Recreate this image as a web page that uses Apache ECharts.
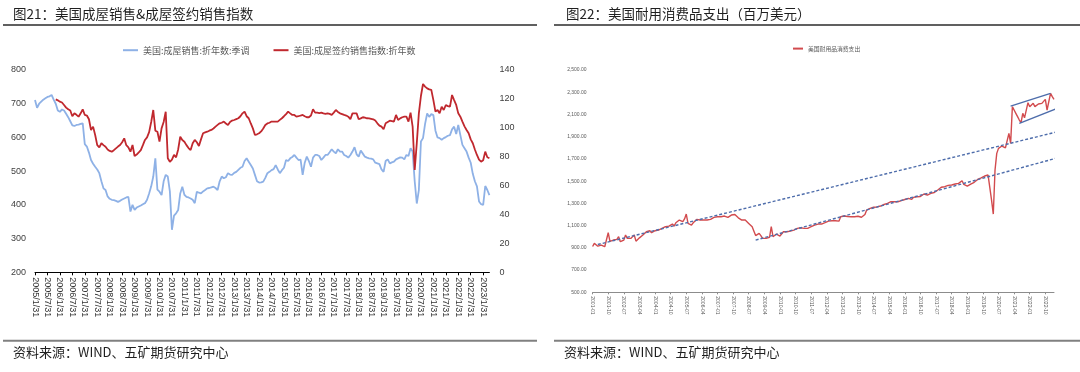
<!DOCTYPE html>
<html><head><meta charset="utf-8">
<script src="https://cdn.jsdelivr.net/npm/echarts@6/dist/echarts.min.js"></script>
<style>html,body{margin:0;padding:0;background:#fff}#c{width:1080px;height:372px}</style>
</head><body><div id="c"></div>
<script>
// ---------- texts ----------
const titleLeft = '图21：美国成屋销售&成屋签约销售指数';
const titleRight = '图22：美国耐用消费品支出（百万美元）';
const sourceText = '资料来源：WIND、五矿期货研究中心';
const nameSales = '美国:成屋销售:折年数:季调';
const namePending = '美国:成屋签约销售指数:折年数';
const nameDurable = '美国耐用品消费支出';

// ---------- categories (monthly) ----------
function monthCats(y0, n, fmt){ const out=[]; let y=y0, m=1; for(let i=0;i<n;i++){ out.push(fmt(y,m)); m++; if(m>12){m=1;y++;} } return out; }
const leftCats = monthCats(2005, 220, (y,m)=> y+'/'+m+'/'+new Date(y,m,0).getDate());
const rightCats = monthCats(2001, 267, (y,m)=> y+'-'+String(m).padStart(2,'0'));

// ---------- left chart: existing home sales (万套, left axis) ----------
const homeSales = [
 711,688,700,706,712,716,720,722,726,712,700,680,
 676,683,680,670,660,648,636,634,637,638,640,642,
 580,573,555,533,522,513,505,494,470,449,444,425,
 418,415,414,412,409,412,416,419,422,424,380,400,
 385,392,395,398,402,405,415,434,455,484,538,445,
 439,429,470,489,484,440,326,368,375,385,434,454,
 430,424,422,419,415,405,439,436,434,440,444,449,
 450,452,454,450,444,470,484,479,482,494,490,489,
 495,498,504,510,513,530,538,528,518,508,489,470,
 466,467,469,480,494,498,503,506,518,505,494,503,
 510,533,530,538,542,548,540,533,534,489,525,543,
 530,513,540,548,548,545,533,540,548,548,556,565,
 558,553,565,558,558,548,545,540,548,558,571,550,
 543,561,552,543,540,538,537,535,525,523,521,505,
 498,530,535,523,526,528,535,538,541,540,535,548,
 545,568,558,470,404,444,588,598,640,671,661,669,
 666,620,600,598,593,598,601,605,607,624,632,610,
 637,607,578,568,558,540,525,492,470,455,410,402,
 400,456,444,429
];
// ---------- left chart: pending home sales index (right axis) ----------
const pendingIndex = [
 null,null,null,null,null,null,null,null,null,null,119.7,119,
 118.1,117.5,115.8,114,112.8,112,108,110,109,107.7,110,112.8,
 108.9,108.5,105.9,98.5,100.8,95,88,86.5,89.3,88,86.9,85,
 84,83.5,84.5,85.8,87,88.1,90,92.7,88,86.5,83.5,88.1,
 80.5,81.5,83,84.6,88,91.6,93.4,97,104,112.3,98,97.3,
 90.4,99.6,104,111.1,78.9,76.5,78,81.2,79.6,85,93.8,91.5,
 90.4,88,86,84.6,89.3,91.6,90,87.4,92,96.2,96.8,97.3,
 98,98.5,99.5,100.8,102,103.1,103.5,104.3,103,101.9,104,105,
 105.4,106,106.6,108,110,111.2,108,106.6,103,99.6,95,95.5,
 96.2,97.5,99.5,101.9,103,103.5,104.3,104.3,104.3,104.3,105.5,106.6,
 108,109.5,111.2,110,108.9,108.9,107.7,108,108.5,108.9,108,107.3,
 107.3,108.5,112.8,110.5,110.5,110.2,110.5,110,109.6,110,109.6,109,
 110.5,112.3,111,110,109.5,108.9,108.5,107.7,105.9,110,110,110,
 105.9,106.5,107.3,107,106.6,106.5,106.2,105.9,105,103.1,101.5,100.8,
 99,103.1,104,104.9,104.6,104.3,108.9,105.4,106.5,107.3,107.7,107.7,
 104.3,110.5,100.8,70.8,89.3,110,122,130.3,128.5,127.3,126.6,126.2,
 119.2,111.2,112.3,110,114.6,112.3,115.8,115,114.6,122.7,119.2,115.8,
 110,107.7,104.3,101,98.5,96.2,92,89.3,85,81.2,78,76.6,
 77.5,83.5,79.6,78.9
];
// ---------- right chart: durable goods spending ----------
const durableSpending = [
 912,940,928,915,910,925,918,910,895,1036,958,955,
 970,972,976,1000,955,962,970,1015,985,970,985,1000,
 1015,960,975,990,1000,1015,1030,1045,1050,1054,1036,1045,
 1054,1058,1060,1068,1075,1070,1090,1081,1095,1105,1114,1096,
 1126,1135,1150,1140,1135,1160,1204,1120,1112,1105,1126,1140,
 1156,1152,1150,1148,1150,1155,1150,1165,1156,1165,1174,1170,
 1180,1178,1180,1183,1186,1180,1174,1185,1195,1210,1200,1186,
 1170,1160,1150,1145,1150,1138,1120,1108,1090,1050,1010,995,
 1030,1010,985,976,985,1000,995,1090,1000,1010,1024,1015,
 1006,1020,1045,1040,1045,1045,1050,1055,1060,1068,1075,1078,
 1081,1078,1075,1075,1075,1082,1090,1098,1105,1110,1114,1118,
 1114,1120,1126,1135,1140,1144,1144,1144,1144,1135,1140,1180,
 1180,1186,1184,1182,1180,1180,1182,1180,1180,1184,1186,1175,
 1165,1200,1240,1245,1255,1260,1265,1270,1268,1272,1276,1280,
 1290,1306,1300,1310,1315,1312,1315,1318,1315,1320,1325,1330,
 1335,1340,1345,1335,1336,1354,1360,1360,1366,1362,1375,1384,
 1380,1375,1380,1390,1395,1398,1405,1420,1435,1445,1456,1450,
 1455,1462,1465,1465,1470,1474,1478,1480,1486,1504,1470,1460,
 1456,1462,1474,1480,1490,1504,1515,1525,1530,1540,1546,1550,
 1555,1546,1330,1204,1600,1750,1795,1800,1816,1812,1800,1790,
 1930,1840,2170,2140,2110,2080,2050,2026,2110,2070,2065,2206,
 2170,2185,2200,2170,2185,2194,2192,2200,2205,2236,2140,2125,
 2290,2260,2236
];
// annotation trend lines: [month index from 2001-01, value]
const trendUpperDotted = [[3, 930], [276, 1975]];
const trendLowerDotted = [[94, 970], [279, 1756]];
const channelUpper = [[241, 2175], [264, 2290]];
const channelLower = [[246, 2020], [268, 2155]];

// ---------- axis ticks ----------
const salesAxis = {min:200, max:800, interval:100};
const pendingAxis = {min:0, max:140, interval:20};
const durableAxis = {min:500, max:2500, interval:200};

function fmtMoney(v){ const s=v.toFixed(2).split('.'); return s[0].replace(/\B(?=(\d{3})+(?!\d))/g, ',')+'.'+s[1]; }

const CJK = '"Noto Sans CJK SC", "Noto Sans", sans-serif';
const LAT = '"Liberation Sans", Arial, sans-serif';

function txt(x, y, text, size, color){
  return {type:'text', x:x, y:y, silent:true, style:{text:text, fill:color, font:'normal '+size+'px '+CJK, verticalAlign:'middle', textVerticalAlign:'middle'}};
}
function hline(x1, x2, y, color, w){
  return {type:'line', silent:true, shape:{x1:x1, y1:y, x2:x2, y2:y}, style:{stroke:color, lineWidth:w}};
}

const trendStyle = (data, dashed) => ({
  type:'line', xAxisIndex:2, yAxisIndex:2, data:data, symbol:'none', clip:false, silent:true, z:5,
  lineStyle:{color:'#4E6DAB', width:1.4, type: dashed ? [3,2] : 'solid'}
});

const chart = echarts.init(document.getElementById('c'));
chart.setOption({
  animation:false,
  backgroundColor:'#ffffff',
  graphic:[
    txt(13, 14, titleLeft, 13.5, '#1f1f1f'),
    txt(566, 14, titleRight, 13.5, '#1f1f1f'),
    hline(3, 537, 25, '#2b2b2b', 1.5),
    hline(554, 1080, 25, '#2b2b2b', 1.5),
    hline(3, 537, 340.7, '#808080', 2),
    hline(554, 1080, 340.7, '#808080', 2),
    txt(13, 352, sourceText, 13, '#1f1f1f'),
    txt(564, 352, sourceText, 13, '#1f1f1f')
  ],
  legend:[
    {data:[nameSales, namePending], left:123, top:45.7, padding:0, icon:'rect', itemWidth:15, itemHeight:2, itemGap:24,
     textStyle:{fontFamily:CJK, fontSize:9, color:'#595959'}},
    {data:[nameDurable], left:793, top:45.7, padding:0, icon:'rect', itemWidth:10, itemHeight:2,
     textStyle:{fontFamily:CJK, fontSize:5.8, color:'#595959'}}
  ],
  grid:[
    {left:35, right:590.6, top:70, bottom:99.7},
    {left:592.6, right:26, top:70, bottom:79.7}
  ],
  xAxis:[
    {type:'category', gridIndex:0, data:leftCats, boundaryGap:false,
     axisLine:{lineStyle:{color:'#000', width:1}},
     axisTick:{interval:5, length:3, lineStyle:{color:'#000'}},
     axisLabel:{interval:5, rotate:-90, fontSize:9, color:'#333', margin:5, fontFamily:LAT}},
    {type:'category', gridIndex:1, data:rightCats, boundaryGap:false,
     axisLine:{lineStyle:{color:'#8c8c8c', width:1}},
     axisTick:{interval:8, length:2, lineStyle:{color:'#8c8c8c'}},
     axisLabel:{interval:8, rotate:-90, fontSize:5, color:'#595959', margin:4, fontFamily:LAT}},
    {type:'value', gridIndex:1, min:0, max:266, show:false}
  ],
  yAxis:[
    {type:'value', gridIndex:0, min:salesAxis.min, max:salesAxis.max, interval:salesAxis.interval,
     splitLine:{show:false}, axisLine:{show:false}, axisTick:{show:false},
     axisLabel:{fontSize:9, color:'#404040', margin:9, fontFamily:LAT}},
    {type:'value', gridIndex:0, position:'right', min:pendingAxis.min, max:pendingAxis.max, interval:pendingAxis.interval,
     splitLine:{show:false}, axisLine:{show:false}, axisTick:{show:false},
     axisLabel:{fontSize:9, color:'#404040', margin:10, fontFamily:LAT}},
    {type:'value', gridIndex:1, min:durableAxis.min, max:durableAxis.max, interval:durableAxis.interval,
     splitLine:{show:false}, axisLine:{show:false}, axisTick:{show:false},
     axisLabel:{fontSize:5, color:'#595959', margin:6, fontFamily:LAT, formatter:fmtMoney}}
  ],
  series:[
    {name:nameSales, type:'line', xAxisIndex:0, yAxisIndex:0, data:homeSales, symbol:'none',
     lineStyle:{color:'#8EB1E6', width:1.8}, itemStyle:{color:'#8EB1E6'}},
    {name:namePending, type:'line', xAxisIndex:0, yAxisIndex:1, data:pendingIndex, symbol:'none',
     lineStyle:{color:'#C0282E', width:1.8}, itemStyle:{color:'#C0282E'}},
    {name:nameDurable, type:'line', xAxisIndex:1, yAxisIndex:2, data:durableSpending, symbol:'none',
     lineStyle:{color:'#D24B4E', width:1.4}, itemStyle:{color:'#D24B4E'}},
    trendStyle(trendUpperDotted, true),
    trendStyle(trendLowerDotted, true),
    trendStyle(channelUpper, false),
    trendStyle(channelLower, false)
  ]
});
</script>
</body></html>
